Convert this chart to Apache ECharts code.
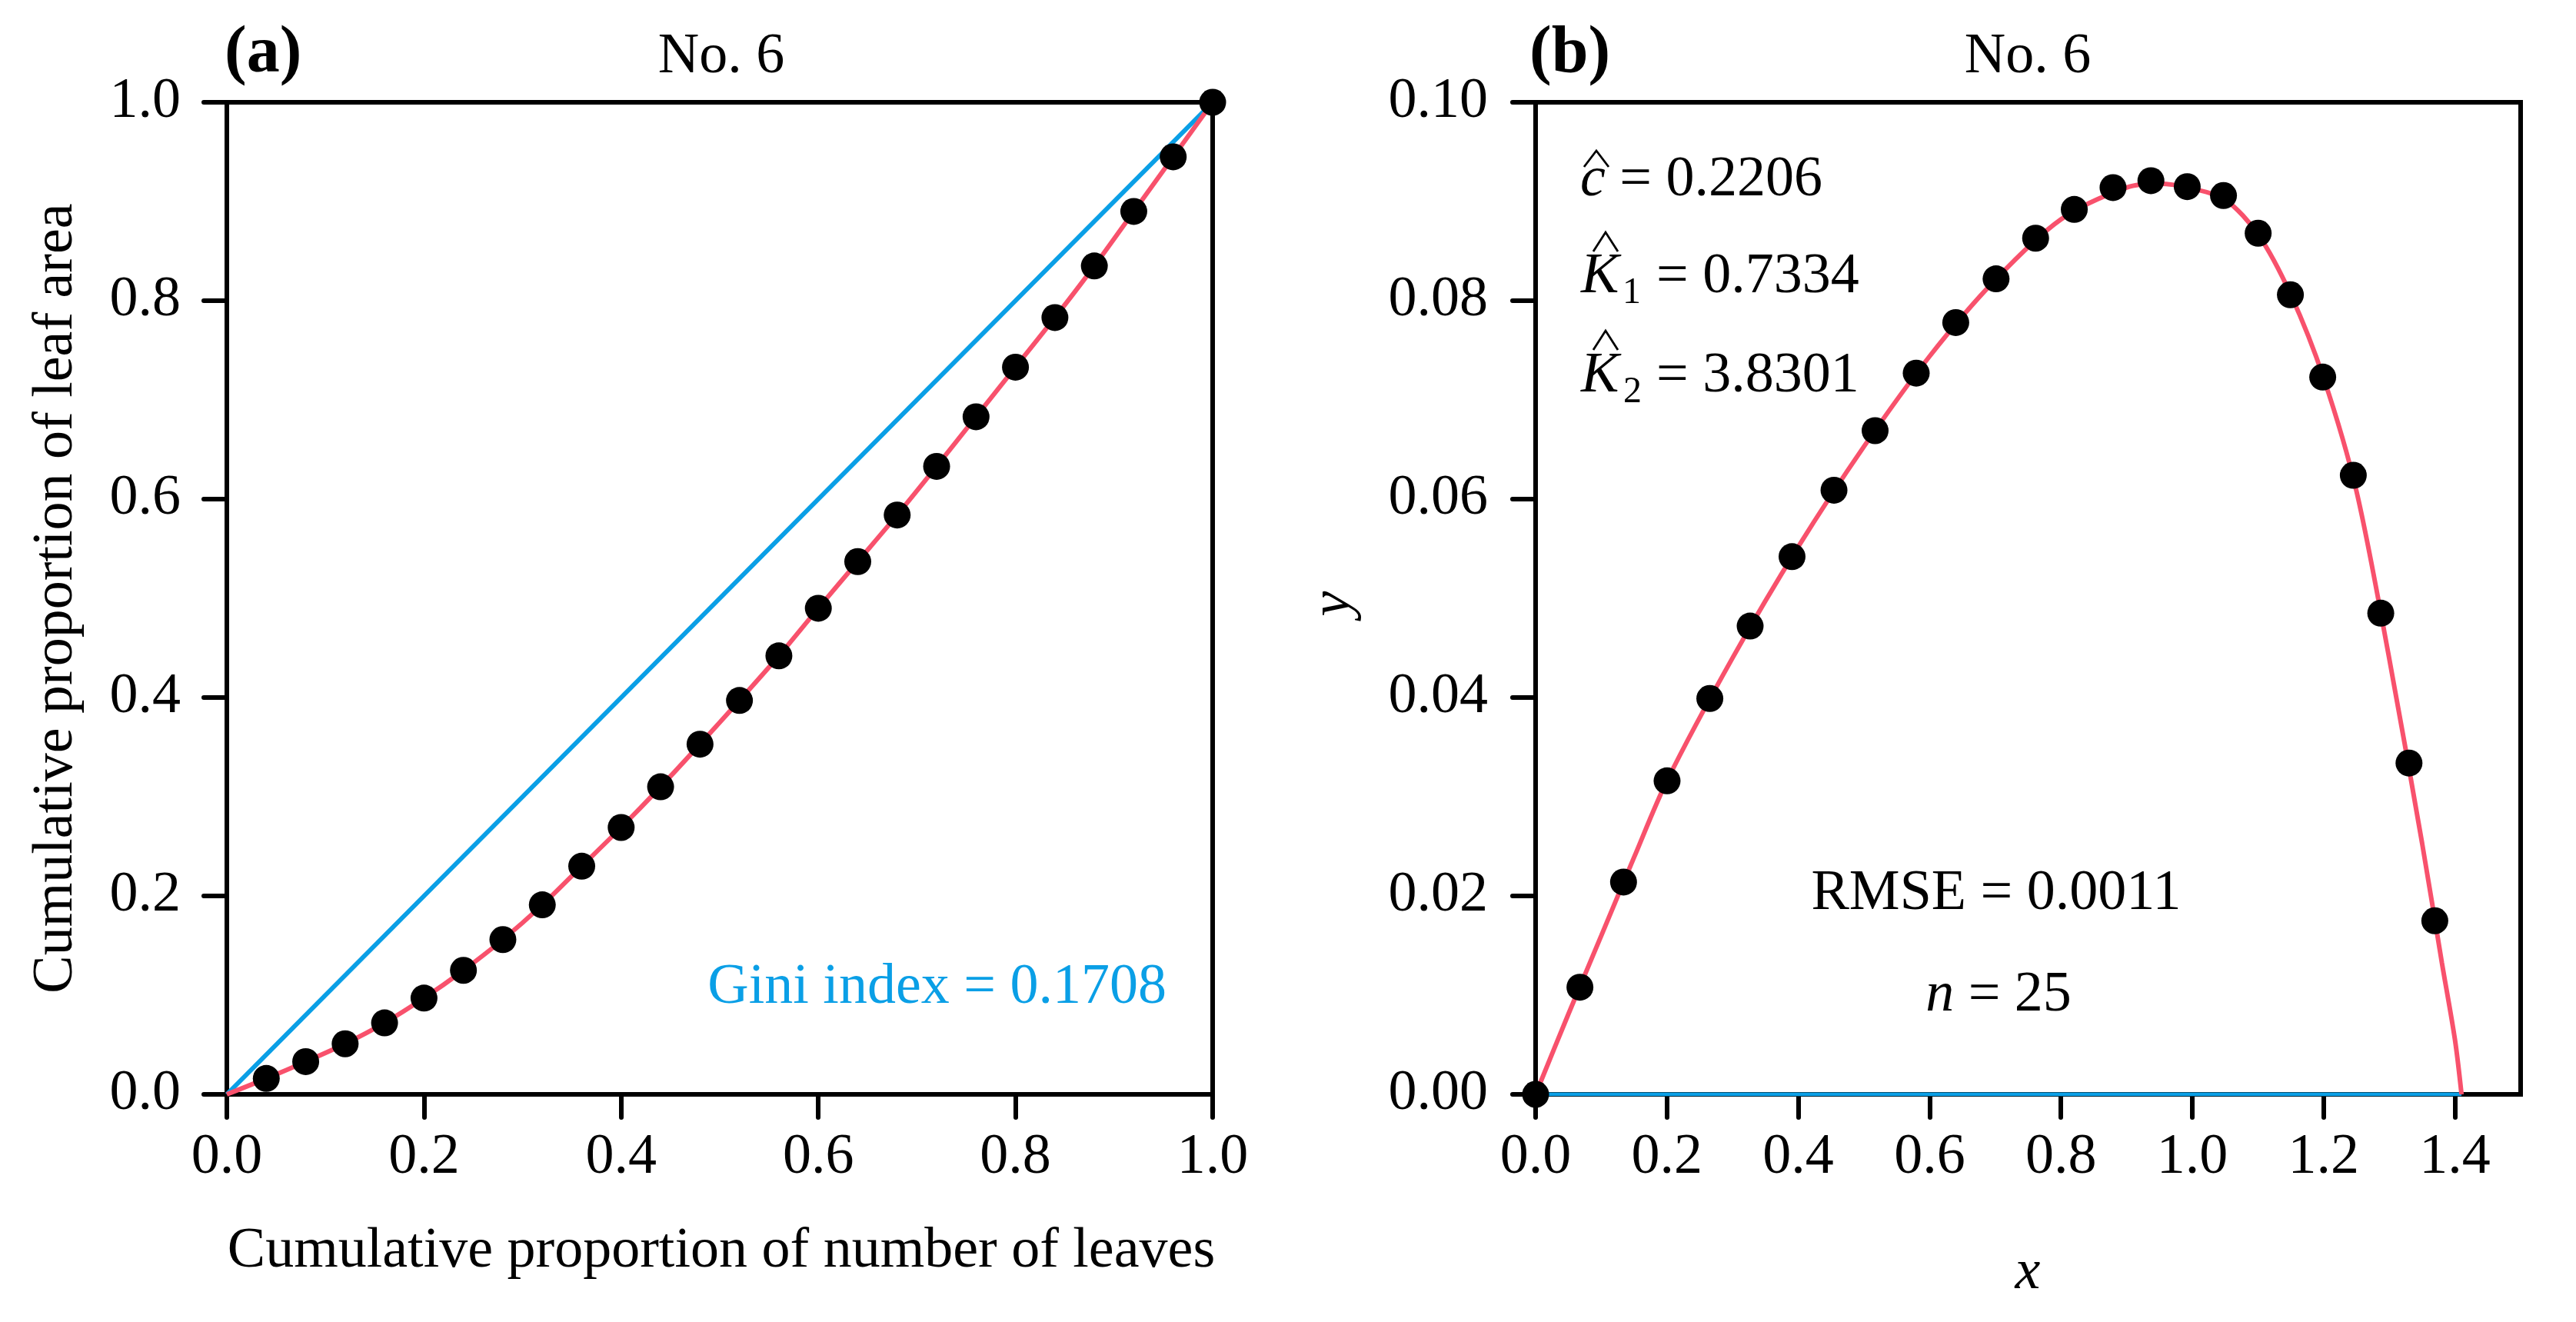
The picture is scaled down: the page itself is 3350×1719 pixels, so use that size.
<!DOCTYPE html>
<html>
<head>
<meta charset="utf-8">
<title>No. 6 – Lorenz curve and leaf size fit</title>
<script src="https://cdn.jsdelivr.net/npm/echarts@6/dist/echarts.min.js"></script>
<style>
  html, body { margin: 0; padding: 0; background: #fff; }
  #chart { width: 3350px; height: 1719px; }
</style>
</head>
<body>
<div id="chart"></div>
<script>
//--------------------- Data ---------------------------//
// (a) Lorenz points: cumulative proportion of leaves vs leaf area
const lorenzX = [0.04, 0.08, 0.12, 0.16, 0.20, 0.24, 0.28, 0.32, 0.36, 0.40, 0.44, 0.48, 0.52,
  0.56, 0.60, 0.64, 0.68, 0.72, 0.76, 0.80, 0.84, 0.88, 0.92, 0.96, 1.00];
const lorenzY = [0.016, 0.033, 0.051, 0.072, 0.097, 0.125, 0.156, 0.191, 0.230, 0.269, 0.310, 0.353, 0.397,
  0.442, 0.490, 0.537, 0.584, 0.633, 0.683, 0.733, 0.783, 0.835, 0.890, 0.945, 1.000];
// line of equality
const equalX = [0, 1];
const equalY = [0, 1];

// (b) observed points
const obsX = [0, 0.0675, 0.1339, 0.2002, 0.2653, 0.3267, 0.3905, 0.4544, 0.5170, 0.5796, 0.6398, 0.7012,
  0.7614, 0.8203, 0.8793, 0.9370, 0.9923, 1.0475, 1.1003, 1.1494, 1.1986, 1.2452, 1.2870, 1.3300, 1.3693];
const obsY = [0, 0.0108, 0.0214, 0.0316, 0.0399, 0.0472, 0.0542, 0.0609, 0.0669, 0.0727, 0.0778, 0.0822,
  0.0863, 0.0892, 0.0914, 0.0921, 0.0915, 0.0906, 0.0868, 0.0806, 0.0723, 0.0624, 0.0485, 0.0334, 0.0175];
// (b) fitted curve
const fitX = [0, 0.05, 0.1, 0.15, 0.2, 0.3, 0.4, 0.5, 0.6, 0.7, 0.8, 0.9, 0.95, 1.0, 1.05, 1.1, 1.15,
  1.2, 1.25, 1.3, 1.35, 1.38, 1.4, 1.41];
const fitY = [0, 0.0081, 0.0160, 0.0239, 0.0316, 0.0440, 0.0552, 0.0653, 0.0744, 0.0821, 0.0882, 0.0914,
  0.0918, 0.0913, 0.0902, 0.0867, 0.0806, 0.0722, 0.0608, 0.0439, 0.0253, 0.0133, 0.0055, 0];
// (b) zero line
const zeroX = [0, 1.41];
const zeroY = [0, 0];

const xTicksA = { min: 0, max: 1, interval: 0.2 };
const yTicksA = { min: 0, max: 1, interval: 0.2 };
const xTicksB = { min: 0, max: 1.5, interval: 0.2 };
const yTicksB = { min: 0, max: 0.1, interval: 0.02 };

//--------------------- Styles ---------------------------//
const FONT = '"Liberation Serif", "Times New Roman", serif';
const FS = 74;
const RED = '#F8516C';
const BLUE = '#0A9FE6';

function pairs(xs, ys) {
  return xs.map((x, i) => [x, ys[i]]);
}

function makeAxis(gridIndex, ticks, digits) {
  return {
    type: 'value',
    gridIndex: gridIndex,
    min: ticks.min,
    max: ticks.max,
    interval: ticks.interval,
    axisLine: { show: true, onZero: false, lineStyle: { color: '#000', width: 6 } },
    axisTick: { show: true, inside: false, length: 30, lineStyle: { color: '#000', width: 6, cap: 'round' } },
    axisLabel: {
      show: true, color: '#000', fontFamily: FONT, fontSize: FS, margin: 0,
      formatter: (v) => v.toFixed(digits)
    },
    splitLine: { show: false }
  };
}

// text helper: place by alphabetic baseline
function txt(x, baseline, text, o) {
  o = o || {};
  const fs = o.fontSize || FS;
  return {
    type: 'text',
    x: x,
    y: baseline - 0.3375 * fs,
    z: 100,
    style: {
      text: text,
      fontFamily: FONT,
      fontSize: fs,
      fontStyle: o.fontStyle || 'normal',
      fontWeight: o.fontWeight || 'normal',
      fill: o.color || '#000',
      align: o.align || 'left',
      verticalAlign: 'middle',
      rich: o.rich
    }
  };
}

// rotated text, reading bottom to top; bx = baseline x, cy = centre y
function vtxt(bx, cy, text, o) {
  o = o || {};
  const fs = o.fontSize || FS;
  return {
    type: 'text',
    x: bx - 0.3375 * fs,
    y: cy,
    rotation: Math.PI / 2,
    z: 100,
    style: {
      text: text,
      fontFamily: FONT,
      fontSize: fs,
      fontStyle: o.fontStyle || 'normal',
      fill: '#000',
      align: 'center',
      verticalAlign: 'middle'
    }
  };
}

// circumflex accent drawn over an estimate symbol
function hat(cx, top, w, h) {
  return {
    type: 'polyline',
    z: 100,
    shape: { points: [[cx - w / 2, top + h], [cx, top], [cx + w / 2, top + h]] },
    style: { stroke: '#000', lineWidth: 2.8, fill: null, lineJoin: 'miter' }
  };
}

const italic = { i: { fontStyle: 'italic', fontFamily: FONT, fontSize: FS, fill: '#000' } };

//--------------------- Chart ---------------------------//
const chart = echarts.init(document.getElementById('chart'), null, { renderer: 'canvas' });

const xA = makeAxis(0, xTicksA, 1);
const yA = makeAxis(0, yTicksA, 1);
const xB = makeAxis(1, xTicksB, 1);
const yB = makeAxis(1, yTicksB, 2);
xA.axisLabel.margin = 46; xB.axisLabel.margin = 46;
yA.axisLabel.margin = 60; yB.axisLabel.margin = 62;

const dot = { color: '#000', opacity: 1 };

const option = {
  backgroundColor: '#fff',
  animation: false,
  grid: [
    { left: 295, right: 1773, top: 133, bottom: 296, show: true, borderColor: '#000', borderWidth: 6, backgroundColor: 'transparent' },
    { left: 1997, right: 72, top: 133, bottom: 296, show: true, borderColor: '#000', borderWidth: 6, backgroundColor: 'transparent' }
  ],
  xAxis: [xA, xB],
  yAxis: [yA, yB],
  series: [
    {
      type: 'line', xAxisIndex: 0, yAxisIndex: 0, data: pairs(equalX, equalY),
      showSymbol: false, lineStyle: { color: BLUE, width: 6 }, z: 3
    },
    {
      type: 'line', xAxisIndex: 0, yAxisIndex: 0, data: pairs([0].concat(lorenzX), [0].concat(lorenzY)),
      showSymbol: false, smooth: 0.3, lineStyle: { color: RED, width: 6 }, z: 4
    },
    {
      type: 'scatter', xAxisIndex: 0, yAxisIndex: 0, data: pairs(lorenzX, lorenzY),
      symbol: 'circle', symbolSize: 35, itemStyle: dot, z: 5
    },
    {
      type: 'line', xAxisIndex: 1, yAxisIndex: 1, data: pairs(zeroX, zeroY),
      showSymbol: false, lineStyle: { color: BLUE, width: 5 }, z: 3
    },
    {
      type: 'line', xAxisIndex: 1, yAxisIndex: 1, data: pairs(fitX, fitY),
      showSymbol: false, smooth: 0.3, lineStyle: { color: RED, width: 6 }, z: 4
    },
    {
      type: 'scatter', xAxisIndex: 1, yAxisIndex: 1, data: pairs(obsX, obsY),
      symbol: 'circle', symbolSize: 35, itemStyle: dot, z: 5
    }
  ],
  graphic: [
    // panel headers
    txt(292, 100, '(a)', { fontWeight: 'bold', fontSize: 86 }),
    txt(938, 100, 'No. 6', { align: 'center' }),
    txt(1989, 100, '(b)', { fontWeight: 'bold', fontSize: 86 }),
    txt(2637, 100, 'No. 6', { align: 'center' }),
    // axis titles
    vtxt(99, 778, 'Cumulative proportion of leaf area'),
    txt(938, 1653, 'Cumulative proportion of number of leaves', { align: 'center' }),
    vtxt(1760, 785, 'y', { fontStyle: 'italic' }),
    txt(2637, 1681, 'x', { align: 'center', fontStyle: 'italic' }),
    // panel (a) annotation
    txt(1517, 1310, 'Gini index = 0.1708', { align: 'right', color: BLUE }),
    // panel (b) estimates
    hat(2076, 196, 32, 21),
    txt(2055, 260, '{i|c} = 0.2206', { rich: italic }),
    hat(2088, 302, 32, 25),
    txt(2056, 386, 'K', { fontStyle: 'italic' }),
    txt(2110, 398, '1', { fontSize: 48 }),
    txt(2154, 386, '= 0.7334'),
    hat(2088, 430, 32, 25),
    txt(2056, 515, 'K', { fontStyle: 'italic' }),
    txt(2111, 527, '2', { fontSize: 48 }),
    txt(2154, 515, '= 3.8301'),
    txt(2596, 1188, 'RMSE = 0.0011', { align: 'center' }),
    txt(2599, 1320, '{i|n} = 25', { align: 'center', rich: italic })
  ]
};

chart.setOption(option);
</script>
</body>
</html>
